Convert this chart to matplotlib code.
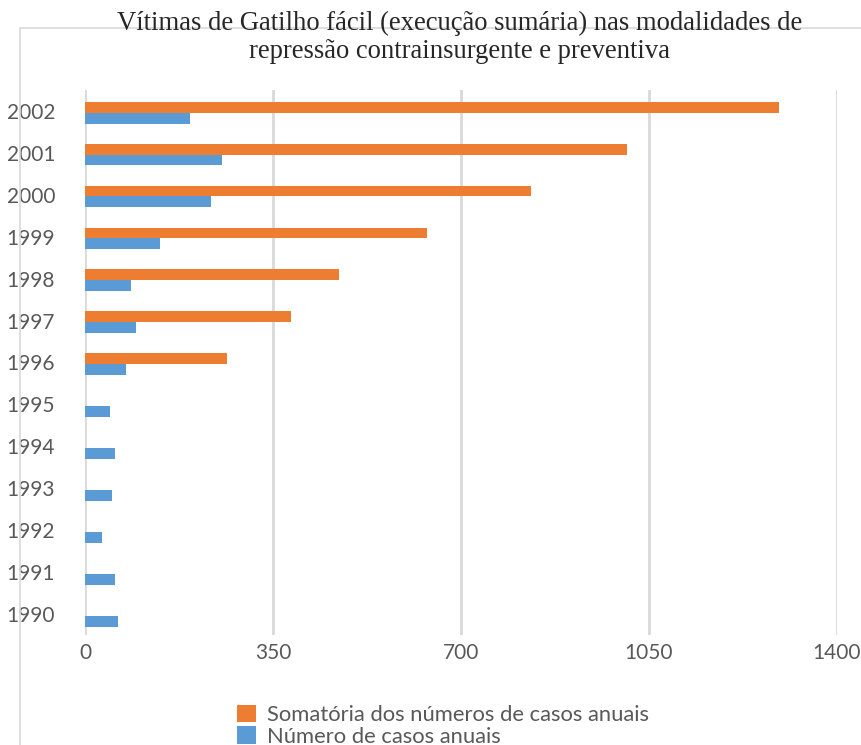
import numpy as np
import matplotlib
matplotlib.use("Agg")
from matplotlib import pyplot as plt
from matplotlib.patches import Rectangle

# Data
years = [1990, 1991, 1992, 1993, 1994, 1995, 1996, 1997, 1998, 1999, 2000, 2001, 2002]
casos_anuais = [61, 56, 32, 50, 56, 47, 76, 95, 86, 140, 235, 255, 196]
somatoria = [0, 0, 0, 0, 0, 0, 264, 384, 473, 637, 830, 1009, 1292]
xticks = [0, 350, 700, 1050, 1400]

title = "Vítimas de Gatilho fácil (execução sumária) nas modalidades de\nrepressão contrainsurgente e preventiva"
label_soma = "Somatória dos números de casos anuais"
label_casos = "Número de casos anuais"

orange = "#ED7D31"
blue = "#5B9BD5"
grid_gray = "#D9D9D9"
text_gray = "#595959"

plt.rcParams['font.family'] = ['Lato', 'DejaVu Sans']

W, H = 862, 745
fig = plt.figure(figsize=(W / 100, H / 100), dpi=100)
ax = fig.add_axes([85 / W, 1 - 635 / H, (837 - 85) / W, (635 - 90) / H])

# chart area border
fig.patches.append(Rectangle((20 / W, -0.1), 1.2, 1.1 - 28 / H, transform=fig.transFigure,
                             fill=False, edgecolor=grid_gray, linewidth=1.2, zorder=0))

y = np.arange(len(years))
h = 0.26
off = -0.04  # pair of bars sits a little below the label
somatoria_masked = [v if v > 0 else np.nan for v in somatoria]
ax.barh(y + off + h / 2, somatoria_masked, height=h, color=orange, label=label_soma, zorder=3)
ax.barh(y + off - h / 2, casos_anuais, height=h, color=blue, label=label_casos, zorder=3)

ax.set_xlim(0, 1400)
ax.set_ylim(-0.5, 12.5)
ax.set_xticks(xticks)
ax.set_xticklabels([str(t) for t in xticks])
ax.set_yticks(y)
ax.set_yticklabels([str(v) for v in years])
ax.tick_params(axis='both', length=0, labelsize=15, labelcolor=text_gray)
ax.tick_params(axis='y', pad=21.5)
ax.tick_params(axis='x', pad=6)

ax.grid(axis='x', color=grid_gray, linewidth=2, zorder=0)
ax.set_axisbelow(True)
for s in ax.spines.values():
    s.set_visible(False)

fig.text(460 / W, 1 - 11 / H, title, ha='center', va='top', family='Liberation Serif',
         fontsize=19.2, color='#262626', linespacing=1.15)

handles, labels = ax.get_legend_handles_labels()
fig.legend(handles, labels, loc='upper left', bbox_to_anchor=(226 / W, 1 - 694 / H),
           frameon=False, fontsize=15.8, labelcolor=text_gray, handlelength=0.85,
           handleheight=0.85, handletextpad=0.5, labelspacing=0.05, borderpad=0)

fig.savefig("out.png", dpi=100)
